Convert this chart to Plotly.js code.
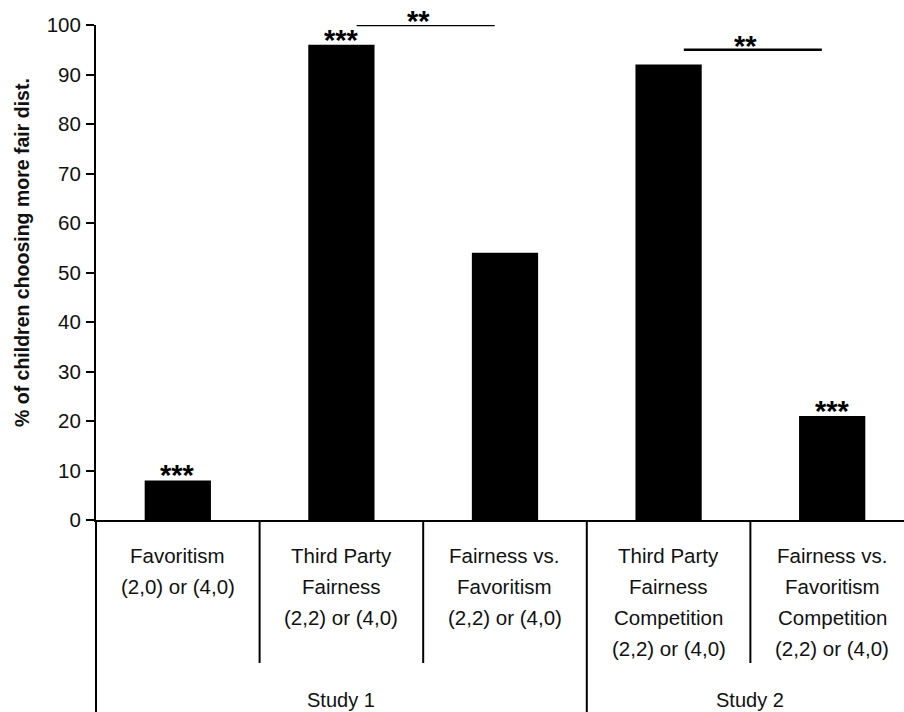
<!DOCTYPE html>
<html>
<head>
<meta charset="utf-8">
<script src="https://cdn.plot.ly/plotly-3.0.1.min.js"></script>
<style>html,body{margin:0;padding:0;background:#fff;}#chart{width:904px;height:712px;}</style>
</head>
<body>
<div id="chart"></div>
<script>
// ---- data ----
var categoryLines = [
  ["Favoritism", "(2,0) or (4,0)"],
  ["Third Party", "Fairness", "(2,2) or (4,0)"],
  ["Fairness vs.", "Favoritism", "(2,2) or (4,0)"],
  ["Third Party", "Fairness", "Competition", "(2,2) or (4,0)"],
  ["Fairness vs.", "Favoritism", "Competition", "(2,2) or (4,0)"]
];
var percentFair = [8, 96, 54, 92, 21];
var starLabels = ["***", "***", "", "", "***"];
var studyNames = ["Study 1", "Study 2"];
var studyCenters = [1, 3.5];
var bracketFrom = [1, 3];
var bracketTo = [2, 4];
var bracketLevel = [100, 95];
var bracketLabels = ["**", "**"];
var yTicks = [0, 10, 20, 30, 40, 50, 60, 70, 80, 90, 100];

var xIdx = percentFair.map(function (_, i) { return i; });
var FONT = '"Liberation Sans", Arial, Helvetica, sans-serif';
var INK = '#111';

var trace = {
  type: 'bar',
  x: xIdx,
  y: percentFair,
  width: 0.405,
  marker: { color: '#000', line: { width: 0 } },
  hoverinfo: 'skip'
};

var annotations = [];
var shapes = [];

// stars over bars
starLabels.forEach(function (s, i) {
  if (!s) return;
  annotations.push({
    x: i, y: percentFair[i], xref: 'x', yref: 'y',
    text: s, showarrow: false, yanchor: 'bottom', yshift: -13,
    font: { family: FONT, size: 29, color: '#000', weight: 'bold' }
  });
});

// significance brackets
bracketFrom.forEach(function (a, k) {
  var x0 = a + 0.093, x1 = bracketTo[k] - 0.063;
  shapes.push({ type: 'line', xref: 'x', yref: 'y', x0: x0, x1: x1,
    y0: bracketLevel[k], y1: bracketLevel[k], line: { color: '#000', width: 2.5 } });
  annotations.push({
    x: (a + bracketTo[k]) / 2 - 0.03, y: bracketLevel[k], xref: 'x', yref: 'y',
    text: bracketLabels[k], showarrow: false, yanchor: 'bottom', yshift: -14,
    font: { family: FONT, size: 29, color: '#000', weight: 'bold' }
  });
});

// category labels (line by line)
var pxPerPaper = 495;
var lineTop = 555 - 520; // first line centre below axis (px)
var lineStep = 31;
categoryLines.forEach(function (lines, i) {
  lines.forEach(function (t, j) {
    annotations.push({
      x: i, xref: 'x', yref: 'paper',
      y: -(lineTop + j * lineStep) / pxPerPaper,
      text: t, showarrow: false, yanchor: 'middle',
      font: { family: FONT, size: 20.5, color: INK }
    });
  });
});

// study labels
studyNames.forEach(function (n, k) {
  annotations.push({
    x: studyCenters[k], xref: 'x', yref: 'paper',
    y: -(700 - 520) / pxPerPaper,
    text: n, showarrow: false, yanchor: 'middle',
    font: { family: FONT, size: 20, color: INK }
  });
});

// separators
var innerBottom = -(663 - 520) / pxPerPaper;
var fullBottom = -(712 - 520) / pxPerPaper;
[0.5, 1.5, 3.5].forEach(function (b) {
  shapes.push({ type: 'line', xref: 'x', yref: 'paper', x0: b, x1: b, y0: 0, y1: innerBottom,
    line: { color: '#000', width: 2 } });
});
shapes.push({ type: 'line', xref: 'x', yref: 'paper', x0: 2.5, x1: 2.5, y0: 0, y1: fullBottom,
  line: { color: '#000', width: 2 } });
shapes.push({ type: 'line', xref: 'paper', yref: 'paper', x0: 0, x1: 0, y0: 0, y1: fullBottom,
  line: { color: '#000', width: 2 } });

// y title
annotations.push({
  xref: 'paper', yref: 'paper', x: -(96 - 22) / 808, y: (520 - 253) / 495,
  xanchor: 'center', yanchor: 'middle', textangle: -90, showarrow: false,
  text: '% of children choosing more fair dist.',
  font: { family: FONT, size: 19.5, color: INK, weight: 'bold' }
});

var layout = {
  width: 904, height: 712,
  margin: { l: 96, r: 0, t: 25, b: 192, pad: 0 },
  paper_bgcolor: '#fff', plot_bgcolor: '#fff',
  showlegend: false,
  font: { family: FONT, color: INK },
  xaxis: {
    range: [-0.5, 4.439], showgrid: false, zeroline: false,
    showline: true, linecolor: '#000', linewidth: 2,
    showticklabels: false, ticks: '', fixedrange: true
  },
  yaxis: {
    range: [0, 100], tickvals: yTicks, showgrid: false, zeroline: false,
    showline: true, linecolor: '#000', linewidth: 2,
    ticks: 'outside', ticklen: 8, tickwidth: 2, tickcolor: '#000',
    ticklabelstandoff: 1,
    tickfont: { family: FONT, size: 20.5, color: INK }, fixedrange: true
  },
  annotations: annotations,
  shapes: shapes
};

Plotly.newPlot('chart', [trace], layout, { displayModeBar: false, staticPlot: true });
</script>
</body>
</html>
